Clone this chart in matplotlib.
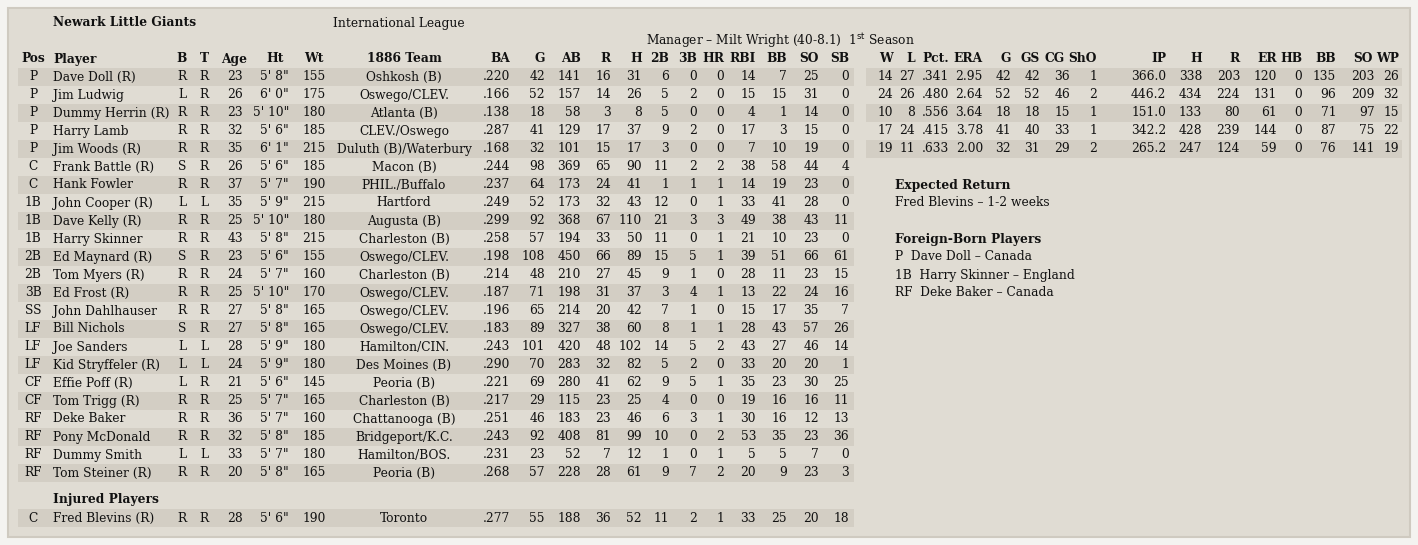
import matplotlib.pyplot as plt
from matplotlib.patches import Rectangle

W, H = 1418, 545
FONT = 'DejaVu Serif'
FS = 8.8

bat_cols = ['BA', 'G', 'AB', 'R', 'H', '2B', '3B', 'HR', 'RBI', 'BB', 'SO', 'SB']
pit_cols = ['W', 'L', 'Pct.', 'ERA', 'G', 'GS', 'CG', 'ShO', 'IP', 'H', 'R', 'ER', 'HB', 'BB', 'SO', 'WP']

positions = ['P', 'P', 'P', 'P', 'P', 'C', 'C', '1B', '1B', '1B', '2B', '2B', '3B', 'SS',
             'LF', 'LF', 'LF', 'CF', 'CF', 'RF', 'RF', 'RF', 'RF']
players = ['Dave Doll (R)', 'Jim Ludwig', 'Dummy Herrin (R)', 'Harry Lamb', 'Jim Woods (R)',
           'Frank Battle (R)', 'Hank Fowler', 'John Cooper (R)', 'Dave Kelly (R)', 'Harry Skinner',
           'Ed Maynard (R)', 'Tom Myers (R)', 'Ed Frost (R)', 'John Dahlhauser', 'Bill Nichols',
           'Joe Sanders', 'Kid Stryffeler (R)', 'Effie Poff (R)', 'Tom Trigg (R)', 'Deke Baker',
           'Pony McDonald', 'Dummy Smith', 'Tom Steiner (R)']
bats = ['R', 'L', 'R', 'R', 'R', 'S', 'R', 'L', 'R', 'R', 'S', 'R', 'R', 'R', 'S', 'L', 'L', 'L', 'R', 'R', 'R', 'L', 'R']
throws = ['R', 'R', 'R', 'R', 'R', 'R', 'R', 'L', 'R', 'R', 'R', 'R', 'R', 'R', 'R', 'L', 'L', 'R', 'R', 'R', 'R', 'L', 'R']
ages = [23, 26, 23, 32, 35, 26, 37, 35, 25, 43, 23, 24, 25, 27, 27, 28, 24, 21, 25, 36, 32, 33, 20]
heights = ['5\' 8"', '6\' 0"', '5\' 10"', '5\' 6"', '6\' 1"', '5\' 6"', '5\' 7"', '5\' 9"', '5\' 10"',
           '5\' 8"', '5\' 6"', '5\' 7"', '5\' 10"', '5\' 8"', '5\' 8"', '5\' 9"', '5\' 9"', '5\' 6"',
           '5\' 7"', '5\' 7"', '5\' 8"', '5\' 7"', '5\' 8"']
weights = [155, 175, 180, 185, 215, 185, 190, 215, 180, 215, 155, 160, 170, 165, 165, 180, 180,
           145, 165, 160, 185, 180, 165]
teams = ['Oshkosh (B)', 'Oswego/CLEV.', 'Atlanta (B)', 'CLEV./Oswego', 'Duluth (B)/Waterbury',
         'Macon (B)', 'PHIL./Buffalo', 'Hartford', 'Augusta (B)', 'Charleston (B)', 'Oswego/CLEV.',
         'Charleston (B)', 'Oswego/CLEV.', 'Oswego/CLEV.', 'Oswego/CLEV.', 'Hamilton/CIN.',
         'Des Moines (B)', 'Peoria (B)', 'Charleston (B)', 'Chattanooga (B)', 'Bridgeport/K.C.',
         'Hamilton/BOS.', 'Peoria (B)']
batting = [
    ['.220', 42, 141, 16, 31, 6, 0, 0, 14, 7, 25, 0],
    ['.166', 52, 157, 14, 26, 5, 2, 0, 15, 15, 31, 0],
    ['.138', 18, 58, 3, 8, 5, 0, 0, 4, 1, 14, 0],
    ['.287', 41, 129, 17, 37, 9, 2, 0, 17, 3, 15, 0],
    ['.168', 32, 101, 15, 17, 3, 0, 0, 7, 10, 19, 0],
    ['.244', 98, 369, 65, 90, 11, 2, 2, 38, 58, 44, 4],
    ['.237', 64, 173, 24, 41, 1, 1, 1, 14, 19, 23, 0],
    ['.249', 52, 173, 32, 43, 12, 0, 1, 33, 41, 28, 0],
    ['.299', 92, 368, 67, 110, 21, 3, 3, 49, 38, 43, 11],
    ['.258', 57, 194, 33, 50, 11, 0, 1, 21, 10, 23, 0],
    ['.198', 108, 450, 66, 89, 15, 5, 1, 39, 51, 66, 61],
    ['.214', 48, 210, 27, 45, 9, 1, 0, 28, 11, 23, 15],
    ['.187', 71, 198, 31, 37, 3, 4, 1, 13, 22, 24, 16],
    ['.196', 65, 214, 20, 42, 7, 1, 0, 15, 17, 35, 7],
    ['.183', 89, 327, 38, 60, 8, 1, 1, 28, 43, 57, 26],
    ['.243', 101, 420, 48, 102, 14, 5, 2, 43, 27, 46, 14],
    ['.290', 70, 283, 32, 82, 5, 2, 0, 33, 20, 20, 1],
    ['.221', 69, 280, 41, 62, 9, 5, 1, 35, 23, 30, 25],
    ['.217', 29, 115, 23, 25, 4, 0, 0, 19, 16, 16, 11],
    ['.251', 46, 183, 23, 46, 6, 3, 1, 30, 16, 12, 13],
    ['.243', 92, 408, 81, 99, 10, 0, 2, 53, 35, 23, 36],
    ['.231', 23, 52, 7, 12, 1, 0, 1, 5, 5, 7, 0],
    ['.268', 57, 228, 28, 61, 9, 7, 2, 20, 9, 23, 3],
]
pitching = [
    [14, 27, '.341', '2.95', 42, 42, 36, 1, '366.0', 338, 203, 120, 0, 135, 203, 26],
    [24, 26, '.480', '2.64', 52, 52, 46, 2, '446.2', 434, 224, 131, 0, 96, 209, 32],
    [10, 8, '.556', '3.64', 18, 18, 15, 1, '151.0', 133, 80, 61, 0, 71, 97, 15],
    [17, 24, '.415', '3.78', 41, 40, 33, 1, '342.2', 428, 239, 144, 0, 87, 75, 22],
    [19, 11, '.633', '2.00', 32, 31, 29, 2, '265.2', 247, 124, 59, 0, 76, 141, 19],
]
injured = ['C', 'Fred Blevins (R)', 'R', 'R', 28, '5\' 6"', 190, 'Toronto',
           ['.277', 55, 188, 36, 52, 11, 2, 1, 33, 25, 20, 18]]
foreign = [('P', 'Dave Doll – Canada'), ('1B', 'Harry Skinner – England'), ('RF', 'Deke Baker – Canada')]

# column x positions (pixels)
bat_x = [510, 545, 581, 611, 642, 669, 697, 724, 756, 787, 819, 849]
pit_x = [893, 915, 949, 983, 1011, 1040, 1070, 1097, 1166, 1202, 1240, 1277, 1302, 1336, 1375, 1399]
pit_hx = [893, 915, 949, 983, 1011, 1040, 1065, 1097, 1166, 1202, 1240, 1277, 1302, 1336, 1373, 1399]

fig = plt.figure(figsize=(W / 100, H / 100), dpi=100)
fig.patch.set_facecolor('#f4f3f0')
ax = fig.add_axes([0, 0, 1, 1])
ax.set_xlim(0, W)
ax.set_ylim(H, 0)
ax.axis('off')

ax.add_patch(Rectangle((8, 8), 1402, 529, facecolor='#e0dcd3', edgecolor='#cfcac0', lw=1.5, zorder=1))
stripe = '#d3cec4'


def t(x, y, s, ha='left', bold=False, fs=FS):
    ax.text(x, y, s, ha=ha, va='center', fontsize=fs, family=FONT,
            fontweight='bold' if bold else 'normal', color='#111111', zorder=3)


def band(x, y, w):
    ax.add_patch(Rectangle((x, y - 9), w, 18, facecolor=stripe, edgecolor='none', zorder=2))


def player_row(y, pos, name, b, th, age, ht, wt, team, stats):
    t(33, y, pos, 'center')
    t(53, y, name)
    t(182, y, b, 'center')
    t(204, y, th, 'center')
    t(243, y, str(age), 'right')
    t(289, y, ht, 'right')
    t(314, y, str(wt), 'center')
    t(404, y, team, 'center')
    for x, v in zip(bat_x, stats):
        t(x, y, str(v), 'right')


t(53, 23, 'Newark Little Giants', bold=True)
t(333, 23, 'International League')
t(646, 41, 'Manager – Milt Wright (40-8.1)  1$^{\\mathrm{st}}$ Season')

hy = 59
for s, x, ha in [('Pos', 33, 'center'), ('Player', 53, 'left'), ('B', 182, 'center'), ('T', 204, 'center'),
                 ('Age', 234, 'center'), ('Ht', 275, 'center'), ('Wt', 314, 'center'),
                 ('1886 Team', 404, 'center')]:
    t(x, hy, s, ha, bold=True)
for s, x in zip(bat_cols, bat_x):
    t(x, hy, s, 'right', bold=True)
for s, x in zip(pit_cols, pit_hx):
    t(x, hy, s, 'right', bold=True)

for i in range(len(players)):
    y = 77 + 18 * i
    if i % 2 == 0:
        band(18, y, 836)
    player_row(y, positions[i], players[i], bats[i], throws[i], ages[i], heights[i],
               weights[i], teams[i], batting[i])

for i, row in enumerate(pitching):
    y = 77 + 18 * i
    if i % 2 == 0:
        band(866, y, 536)
    for x, v in zip(pit_x, row):
        t(x, y, str(v), 'right')

t(53, 500, 'Injured Players', bold=True)
band(18, 518, 836)
player_row(518, *injured)

t(895, 185, 'Expected Return', bold=True)
t(895, 203, 'Fred Blevins – 1-2 weeks')
t(895, 239, 'Foreign-Born Players', bold=True)
for k, (p, s) in enumerate(foreign):
    t(895, 257 + 18 * k, f'{p}  {s}')

fig.savefig('out.png', dpi=100, facecolor=fig.get_facecolor())
